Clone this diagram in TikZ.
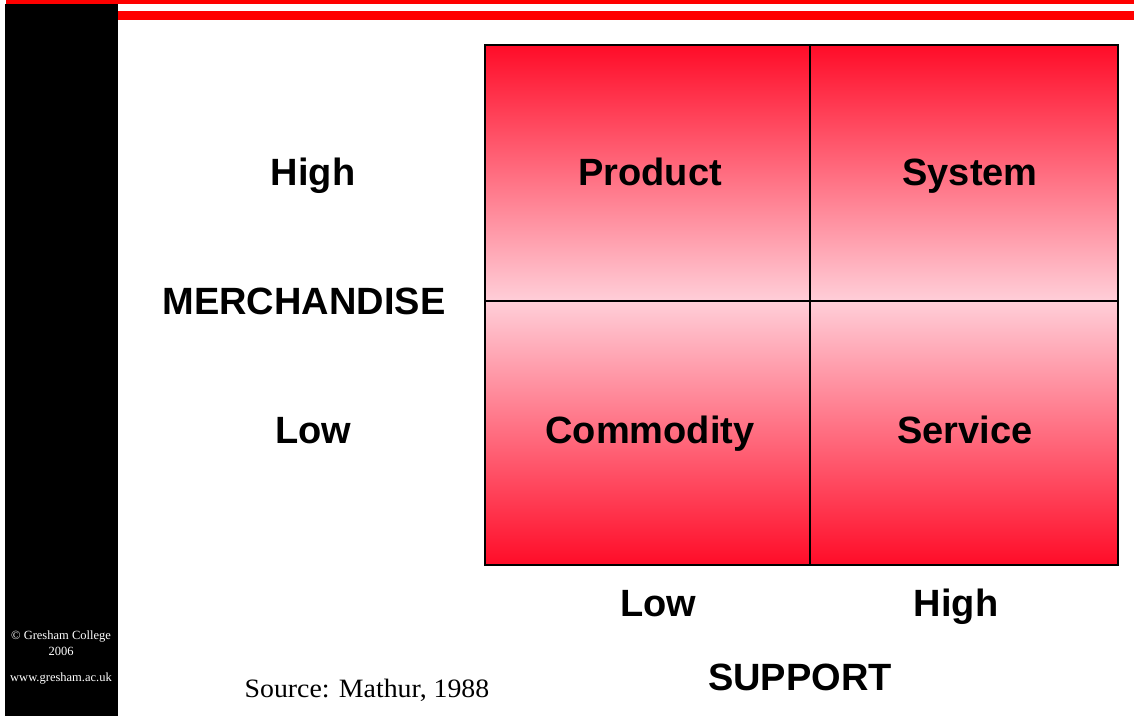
\documentclass[tikz,border=0pt]{standalone}
\usepackage{fontspec}
\setmainfont{Liberation Serif}
\newfontfamily\arialfont{Liberation Sans}
\begin{document}
\begin{tikzpicture}[x=1pt,y=-1pt,
  lbl/.style={font=\arialfont\bfseries\fontsize{38}{40}\selectfont, inner sep=0pt, anchor=base},
  foot/.style={font=\fontsize{12.5}{14}\selectfont, text=white, inner sep=0pt},
  cellgrid/.style={draw=black, line width=1.2pt}]
\definecolor{deepred}{RGB}{255,12,40}
\definecolor{palepink}{RGB}{255,206,216}
\useasboundingbox (0,0) rectangle (1134,716);
\fill[white] (0,0) rectangle (1134,716);
% side bar and top lines
\fill[black] (5,4) rectangle (118,716);
\fill[red] (6,0) rectangle (1134,4);
\fill[red] (118,11) rectangle (1134,20);
% cells
\shade[top color=deepred, bottom color=palepink] (485,45) rectangle (810,301);
\shade[top color=deepred, bottom color=palepink] (810,45) rectangle (1118,301);
\shade[top color=palepink, bottom color=deepred] (485,301) rectangle (810,565);
\shade[top color=palepink, bottom color=deepred] (810,301) rectangle (1118,565);
\draw[cellgrid] (485,45) rectangle (1118,565);
\draw[cellgrid] (810,45) -- (810,565);
\draw[cellgrid] (485,301) -- (1118,301);
% labels
\node[lbl] (hi) at (313,185) {High};
\node[lbl] (merch) at (304,314) {MERCHANDISE};
\node[lbl] (lo) at (313,443) {Low};
\node[lbl] (prod) at (650,185) {Product};
\node[lbl] (sys) at (970,185) {System};
\node[lbl] (comm) at (650,443) {Commodity};
\node[lbl] (serv) at (965,443) {Service};
\node[lbl] (slo) at (658,616) {Low};
\node[lbl] (shi) at (956,616) {High};
\node[lbl] (supp) at (800,690) {SUPPORT};
\node[inner sep=0pt, anchor=base, font=\fontsize{26.5}{28}\selectfont] (src) at (367,697) {\scalebox{1.05}[1]{Source: Mathur, 1988}};
\node[foot] (f1) at (61,636) {\textcopyright{} Gresham College};
\node[foot] (f2) at (61,651) {2006};
\node[foot] (f3) at (61,678) {www.gresham.ac.uk};
\end{tikzpicture}
\end{document}
